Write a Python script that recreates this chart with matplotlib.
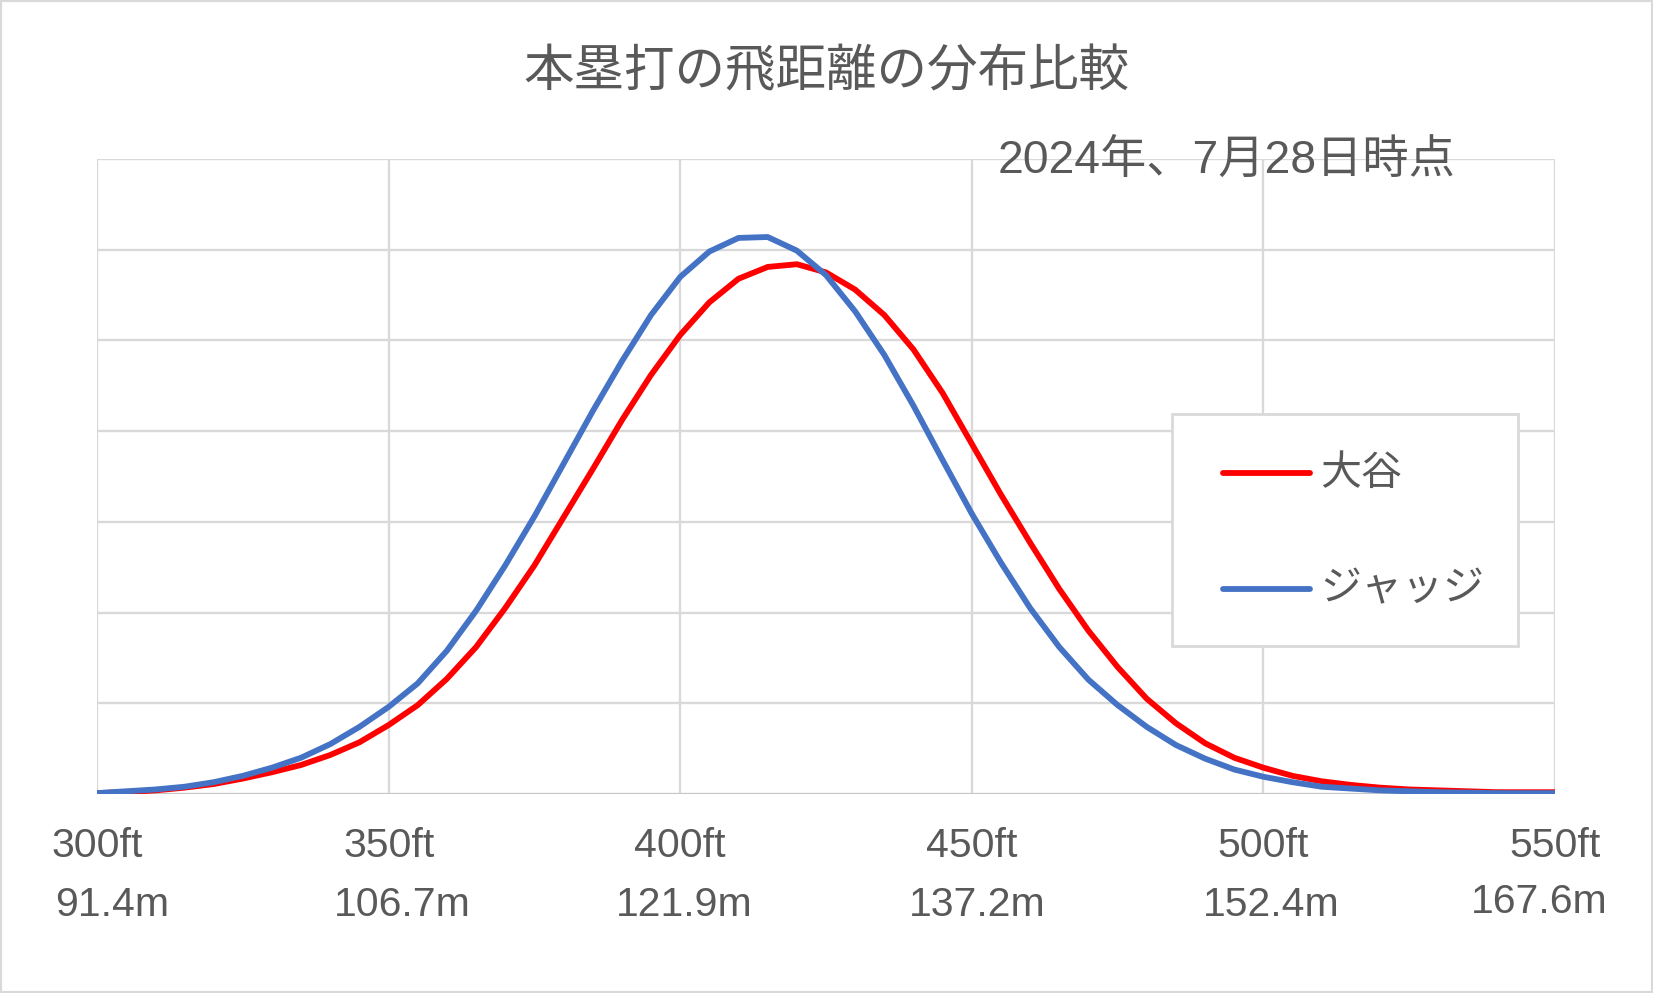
import matplotlib
matplotlib.use('Agg')
import matplotlib.pyplot as plt
import matplotlib.transforms as mtransforms
from matplotlib.patches import Rectangle
from matplotlib.lines import Line2D

plt.rcParams['font.family'] = ['Liberation Sans', 'Noto Sans CJK JP']

# distance (ft) and curve heights (in gridline units)
distance_ft = list(range(300, 551, 5))
ohtani = [0.01, 0.02, 0.04, 0.07, 0.11, 0.17, 0.24, 0.32, 0.43, 0.57,
          0.76, 0.98, 1.27, 1.62, 2.05, 2.52, 3.05, 3.58, 4.12, 4.62,
          5.06, 5.42, 5.68, 5.81, 5.84, 5.75, 5.56, 5.28, 4.90, 4.42,
          3.86, 3.30, 2.77, 2.26, 1.80, 1.40, 1.05, 0.78, 0.56, 0.40,
          0.29, 0.20, 0.14, 0.10, 0.07, 0.05, 0.04, 0.03, 0.02, 0.02,
          0.02]
judge = [0.01, 0.03, 0.05, 0.08, 0.13, 0.20, 0.29, 0.40, 0.55, 0.74,
         0.96, 1.22, 1.58, 2.02, 2.52, 3.06, 3.64, 4.22, 4.77, 5.28,
         5.70, 5.98, 6.13, 6.14, 5.99, 5.72, 5.32, 4.84, 4.28, 3.68,
         3.09, 2.55, 2.05, 1.62, 1.26, 0.98, 0.74, 0.54, 0.39, 0.27,
         0.19, 0.13, 0.08, 0.06, 0.04, 0.03, 0.02, 0.015, 0.01, 0.01,
         0.01]

ft_ticks = [300, 350, 400, 450, 500, 550]
ft_labels = ['300ft', '350ft', '400ft', '450ft', '500ft', '550ft']
m_labels = ['91.4m', '106.7m', '121.9m', '137.2m', '152.4m', '167.6m']
m_dx = [15, 14, 4, 5, 8, -16]   # small horizontal nudges (px)
m_dy = [0, 0, 0, 0, 0, 3]

grey = '#595959'
red = '#FF0000'
blue = '#4472C4'

W, H = 1653, 993
fig = plt.figure(figsize=(W / 100, H / 100), dpi=100)
ax = fig.add_axes([97/W, 1-794/H, (1555-97)/W, (794-159)/H])

ax.plot(distance_ft, ohtani, color=red, lw=4.2, label='大谷',
        solid_capstyle='round', solid_joinstyle='round', zorder=3)
ax.plot(distance_ft, judge, color=blue, lw=4.2, label='ジャッジ',
        solid_capstyle='round', solid_joinstyle='round', zorder=4)

ax.set_xlim(300, 550)
ax.set_ylim(0, 7)
ax.set_xticks(ft_ticks)
ax.set_yticks(range(8))
ax.set_xticklabels([])
ax.set_yticklabels([])
ax.tick_params(length=0)
ax.grid(True, color='#d9d9d9', lw=1.7)
for s in ax.spines.values():
    s.set_visible(False)
ax.axhline(0, color='#bfbfbf', lw=1.8, zorder=2)

trans = mtransforms.blended_transform_factory(ax.transData, ax.transAxes)
for x, ftl, ml, dx, dy in zip(ft_ticks, ft_labels, m_labels, m_dx, m_dy):
    ax.text(x, -0.082, ftl, transform=trans, ha='center', va='center',
            fontsize=29.5, color=grey)
    off = mtransforms.offset_copy(trans, fig=fig, x=dx, y=dy, units='dots')
    ax.text(x, -0.175, ml, transform=off, ha='center', va='center',
            fontsize=29.5, color=grey)

fig.text(0.5, 1-72/H, '本塁打の飛距離の分布比較', ha='center', va='center',
         fontsize=36.4, color=grey, family=['Noto Sans CJK JP'])
fig.text(1455/W, 1-161/H, '2024年、7月28日時点', ha='right', va='center',
         fontsize=33.3, color=grey, zorder=5)

# legend box drawn by hand to match the Excel layout
fig.add_artist(Rectangle((1172/W, 1-646/H), 346/W, 232/H,
                         transform=fig.transFigure, facecolor='white',
                         edgecolor='#d9d9d9', lw=2, zorder=6))
for name, col, yy in [('大谷', red, 473), ('ジャッジ', blue, 589)]:
    fig.add_artist(Line2D([1223/W, 1310/W], [1-yy/H, 1-yy/H],
                          transform=fig.transFigure, color=col, lw=4.2,
                          solid_capstyle='round', zorder=7))
    fig.text(1320/W, 1-yy/H, name, ha='left', va='center', fontsize=29.5,
             color=grey, family=['Noto Sans CJK JP'], zorder=7)

fig.patches.append(Rectangle((0, 0), 1, 1, transform=fig.transFigure,
                             fill=False, edgecolor='#d9d9d9', lw=3))

fig.savefig('out.png', dpi=100)
